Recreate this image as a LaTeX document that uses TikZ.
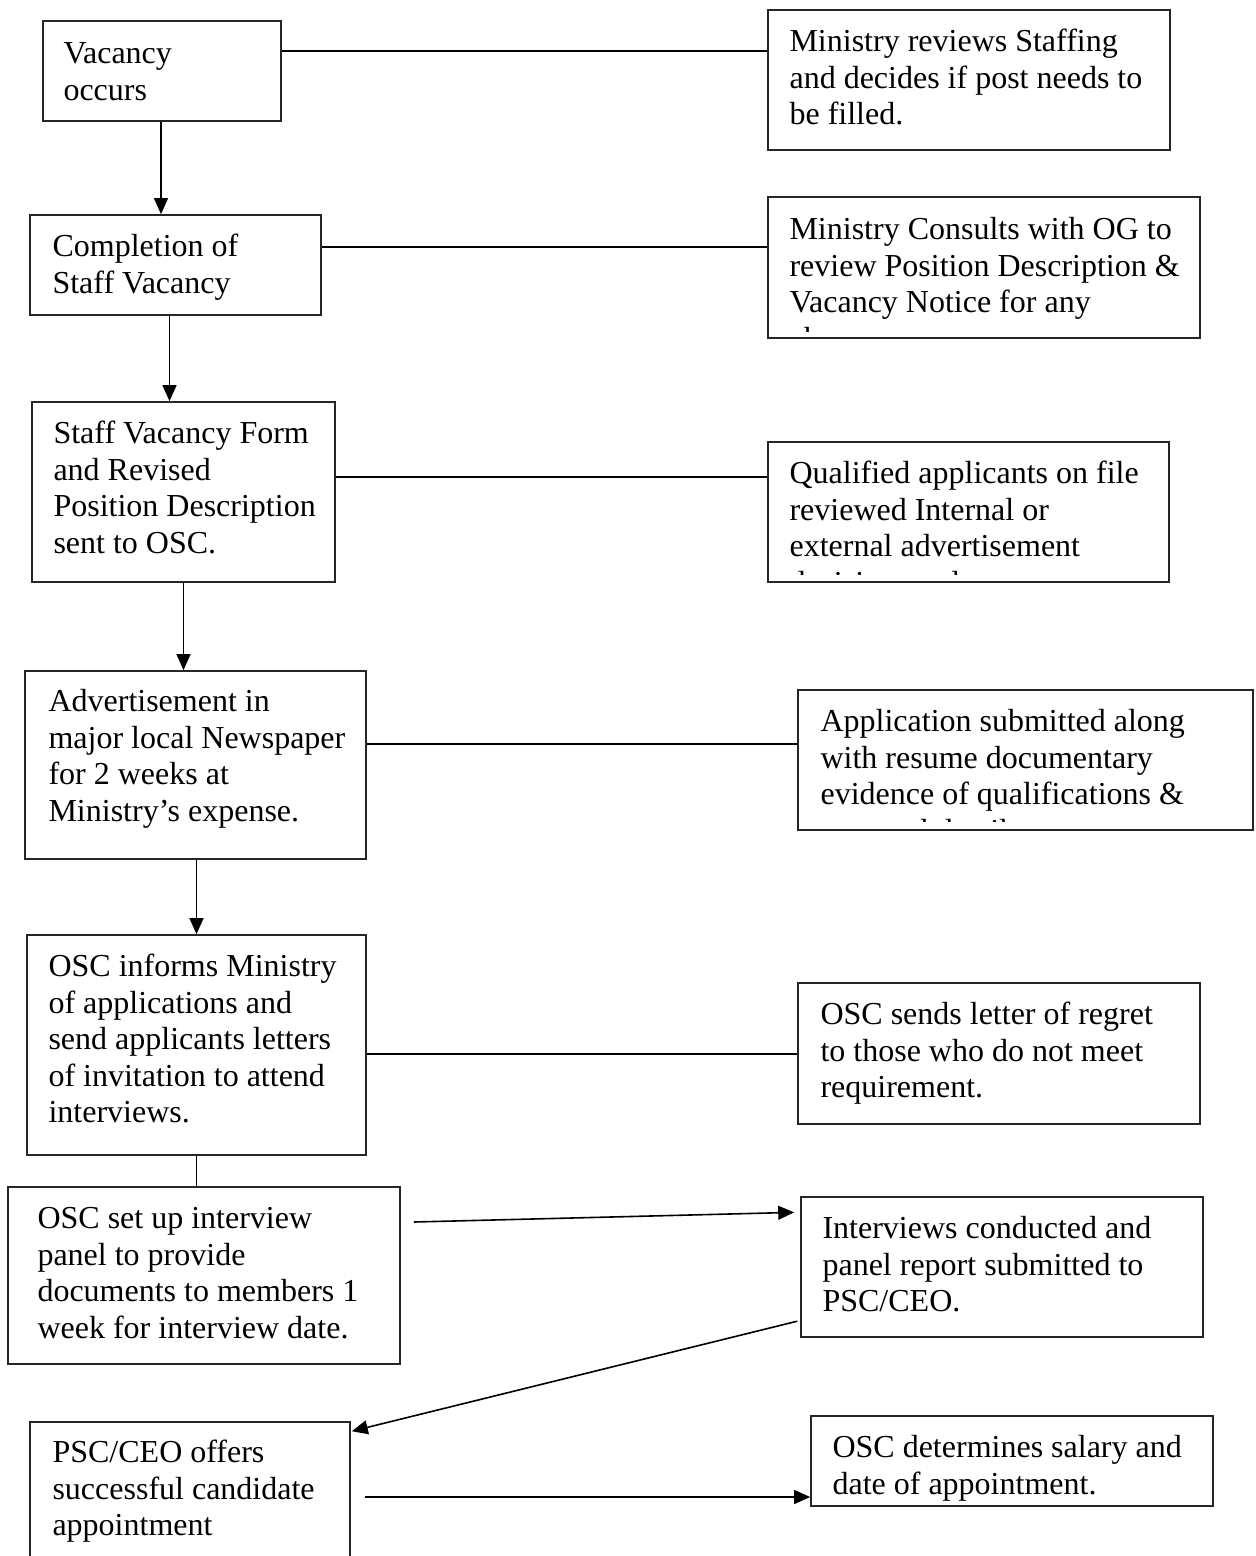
\documentclass[tikz,border=0pt]{standalone}
\usepackage{fontspec}
\setmainfont{Liberation Serif}
\usetikzlibrary{arrows.meta,fit,calc}
\begin{document}
\begin{tikzpicture}[x=0.375pt,y=-0.375pt,
  box/.style={draw=black!85, line width=0.6pt, rectangle, inner sep=0pt},
  txt/.style={anchor=north west, inner sep=0pt, align=left,
              font=\fontsize{12}{13.7}\selectfont},
  link/.style={draw=black, line width=0.6pt},
  arr/.style={link, -{Triangle[length=6pt,width=5.2pt]}}]
\clip (0,0) rectangle (1255,1556);
\fill[white] (0,0) rectangle (1255,1556);

% text placed by first baseline (strut height = 0.7\baselineskip = 25.6 units)
\newcommand{\boxtext}[4]{\node[txt] (#1) at (#2,#3-25.6) {\strut #4};}

% ---- boxes ----
\node[box, fit={(43,21) (281,121)}] (b1) {};
\node[box, fit={(768,10) (1170,150)}] (b2) {};
\node[box, fit={(30,215) (321,315)}] (b3) {};
\node[box, fit={(768,197) (1200,338)}] (b4) {};
\node[box, fit={(32,402) (335,582)}] (b5) {};
\node[box, fit={(768,442) (1169,582)}] (b6) {};
\node[box, fit={(25,671) (366,859)}] (b7) {};
\node[box, fit={(798,690) (1253,830)}] (b8) {};
\node[box, fit={(27,935) (366,1155)}] (b9) {};
\node[box, fit={(798,983) (1200,1124)}] (b10) {};
\node[box, fit={(8,1187) (400,1364)}] (b11) {};
\node[box, fit={(801,1197) (1203,1337)}] (b12) {};
\node[box, fit={(30,1422) (350,1580)}] (b13) {};
\node[box, fit={(811,1416) (1213,1506)}] (b14) {};

% ---- texts ----
\boxtext{t1}{63}{63}{Vacancy\\occurs}
\boxtext{t2}{789}{51}{Ministry reviews Staffing\\and decides if post needs to\\be filled.}
\boxtext{t3}{52}{256}{Completion of\\Staff Vacancy}
\begin{scope}
  \clip (b4.north west) rectangle ($(b4.south east)+(0,-7)$);
  \boxtext{t4}{789}{239}{Ministry Consults with OG to\\review Position Description \&\\Vacancy Notice for any\\changes.}
\end{scope}
\boxtext{t5}{53}{443}{Staff Vacancy Form\\and Revised\\Position Description\\sent to OSC.}
\begin{scope}
  \clip (b6.north west) rectangle ($(b6.south east)+(0,-8)$);
  \boxtext{t6}{789}{483}{Qualified applicants on file\\reviewed Internal or\\external advertisement\\decision made.}
\end{scope}
\boxtext{t7}{48}{711}{Advertisement in\\major local Newspaper\\for 2 weeks at\\Ministry’s expense.}
\begin{scope}
  \clip (b8.north west) rectangle ($(b8.south east)+(0,-9)$);
  \boxtext{t8}{820}{731}{Application submitted along\\with resume documentary\\evidence of qualifications \&\\personal details.}
\end{scope}
\boxtext{t9}{48}{976}{OSC informs Ministry\\of applications and\\send applicants letters\\of invitation to attend\\interviews.}
\boxtext{t10}{820}{1024}{OSC sends letter of regret\\to those who do not meet\\requirement.}
\boxtext{t11}{37}{1228}{OSC set up interview\\panel to provide\\documents to members 1\\week for interview date.}
\boxtext{t12}{822}{1238}{Interviews conducted and\\panel report submitted to\\PSC/CEO.}
\boxtext{t13}{52}{1462}{PSC/CEO offers\\successful candidate\\appointment}
\boxtext{t14}{832}{1457}{OSC determines salary and\\date of appointment.}

% ---- horizontal links to the side boxes ----
\draw[link] ($(b1.north east)+(0,31)$) coordinate (h1) -- (h1 -| b2.west);
\draw[link] ($(b3.north east)+(0,33)$) coordinate (h2) -- (h2 -| b4.west);
\draw[link] ($(b5.north east)+(0,76)$) coordinate (h3) -- (h3 -| b6.west);
\draw[link] ($(b7.north east)+(0,74)$) coordinate (h4) -- (h4 -| b8.west);
\draw[link] ($(b9.north east)+(0,120)$) coordinate (h5) -- (h5 -| b10.west);

% ---- main column ----
\draw[arr] ($(b1.south)+(-1,0)$) coordinate (v1) -- (v1 |- b3.north);
\draw[arr] ($(b3.south)+(-6,0)$) coordinate (v2) -- (v2 |- b5.north);
\draw[arr] (b5.south) -- (b5.south |- b7.north);
\draw[arr] ($(b7.south)+(1,0)$) coordinate (v4) -- (v4 |- b9.north);
\draw[link] (b9.south) -- (b9.south |- b11.north);

% ---- lower arrows ----
\coordinate (s1) at (414,1222);
\draw[arr, shorten >=6*0.375pt] (s1) -- ($(b12.north west)+(0,16)$);
\draw[arr] ($(b12.north west)+(-3,125)$) -- ($(b13.north east)+(1,10)$);
\coordinate (s2) at (365,1497);
\draw[arr] (s2) -- (s2 -| b14.west);
\end{tikzpicture}
\end{document}
